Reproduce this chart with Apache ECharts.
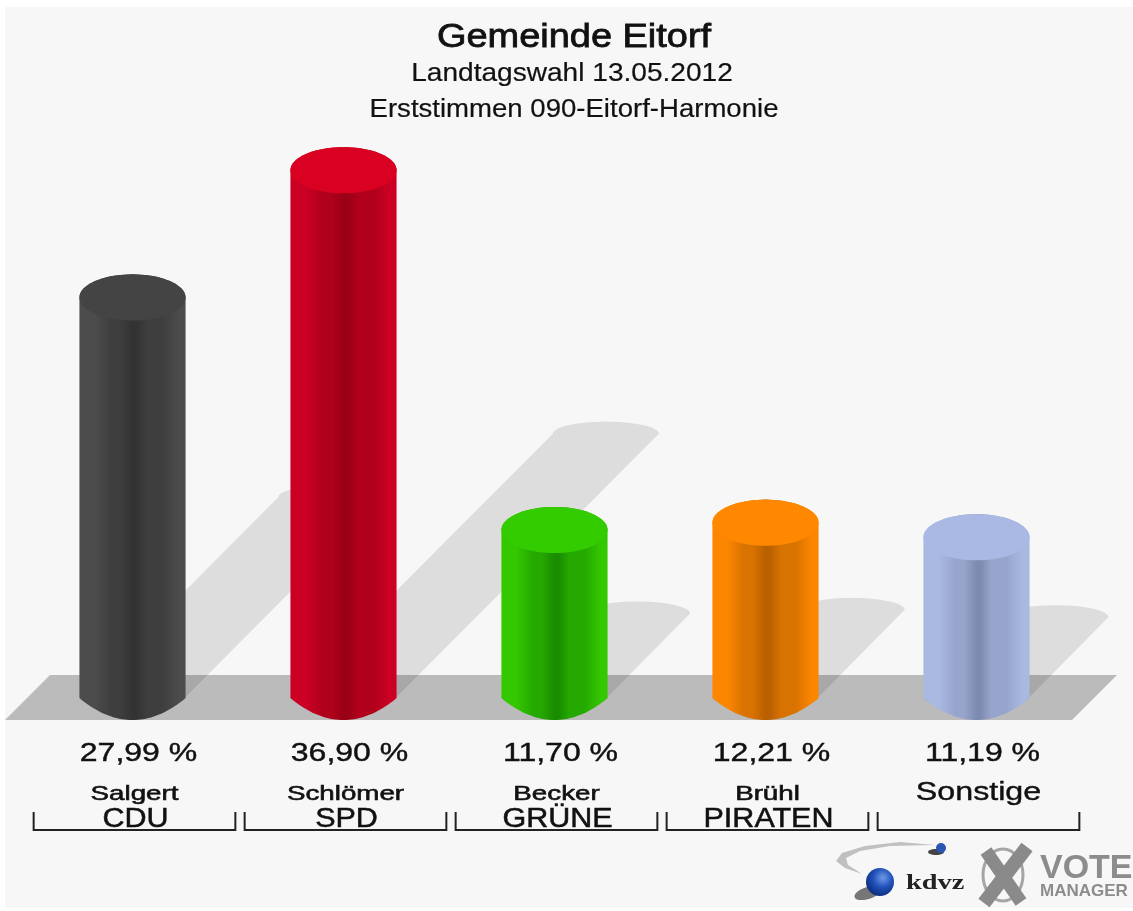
<!DOCTYPE html>
<html><head><meta charset="utf-8">
<style>html,body{margin:0;padding:0;background:#fff}#c{width:1133px;height:911px;filter:blur(0.5px)}</style>
<script src="https://cdn.jsdelivr.net/npm/echarts@6/dist/echarts.min.js"></script>
</head><body><div id="c"></div>
<script>
const titleLines = ['Gemeinde Eitorf', 'Landtagswahl 13.05.2012', 'Erststimmen 090-Eitorf-Harmonie'];
const candidates = ['Salgert', 'Schlömer', 'Becker', 'Brühl', 'Sonstige'];
const parties = ['CDU', 'SPD', 'GRÜNE', 'PIRATEN', ''];
const values = [27.99, 36.90, 11.70, 12.21, 11.19];
const capColors = ['#444444', '#d90022', '#33cc00', '#ff8800', '#a9b9e4'];
const edgeColors = ['#4c4c4c', '#cc0024', '#33c800', '#fd8600', '#a9b9e2'];
const darkColors = ['#333333', '#9a0016', '#198c00', '#b96000', '#7d8bb0'];
const midColors = ['#3e3e3e', '#b0001c', '#25a800', '#d87200', '#97a5cc'];

const FONT = '"Liberation Sans", Arial, sans-serif';
const chart = echarts.init(document.getElementById('c'), null, {renderer: 'canvas'});

function arc(cx, cy, rx, ry, from, to, n) {
  const pts = [];
  for (let i = 0; i <= n; i++) {
    const t = from + (to - from) * i / n;
    pts.push([cx + rx * Math.cos(t), cy - ry * Math.sin(t)]);
  }
  return pts;
}
function bottomCurve(cx, cy, rx, depth, lift, n) {
  const pts = [];
  for (let i = 0; i <= n; i++) {
    const u = 1 - 2 * i / n;
    pts.push([cx + rx * u, cy + lift + depth * (1 - u * u)]);
  }
  return pts;
}
function geom(api) {
  const base = api.coord([api.value(0), 0]);
  const top = api.coord([api.value(0), api.value(1)]);
  const band = api.size([1, 0])[0];
  const hw = band * 0.2515;
  return {cx: base[0], y0: base[1], yv: top[1], band, hw, ry: hw * 0.435};
}
const categoryData = values.map((v, i) => [i, v]);

const floorSeries = {
  type: 'custom', coordinateSystem: 'cartesian2d', silent: true, z: 1,
  data: [[0, 0]],
  renderItem(params, api) {
    const y0 = api.coord([0, 0])[1];
    const cs = params.coordSys;
    return {type: 'polygon', shape: {points: [
      [cs.x - 22, y0 + 23], [cs.x + 23, y0 - 22], [cs.x + cs.width + 35, y0 - 22], [cs.x + cs.width - 10, y0 + 23]
    ]}, style: {fill: '#bbbbbb'}};
  }
};
const shadowSeries = {
  type: 'custom', coordinateSystem: 'cartesian2d', silent: true, z: 2,
  data: categoryData,
  renderItem(params, api) {
    const g = geom(api);
    const h = (g.y0 - g.yv) / 2;
    const pts = arc(g.cx + h - 1, g.y0 - h, g.hw, g.ry * 0.52, Math.PI, 0, 30)
      .concat(arc(g.cx, g.y0, g.hw, g.ry * 0.52, 0, -Math.PI, 30));
    return {type: 'polygon', shape: {points: pts}, style: {fill: 'rgba(0,0,0,0.1)'}};
  }
};
const cylinderSeries = {
  type: 'custom', coordinateSystem: 'cartesian2d', z: 3,
  data: categoryData,
  renderItem(params, api) {
    const g = geom(api), i = params.dataIndex;
    const body = arc(g.cx, g.yv, g.hw, g.ry, Math.PI, 0, 40)
      .concat(bottomCurve(g.cx, g.y0, g.hw, g.ry - 1, 1, 40));
    const cap = arc(g.cx, g.yv, g.hw, g.ry, 0, 2 * Math.PI, 80);
    return {type: 'group', children: [
      {type: 'polygon', shape: {points: body}, style: {fill: {
        type: 'linear', x: 0, y: 0, x2: 1, y2: 0, colorStops: [
          {offset: 0, color: edgeColors[i]}, {offset: 0.14, color: edgeColors[i]},
          {offset: 0.3, color: midColors[i]}, {offset: 0.38, color: midColors[i]},
          {offset: 0.5, color: darkColors[i]}, {offset: 0.54, color: darkColors[i]},
          {offset: 0.64, color: midColors[i]}, {offset: 0.78, color: midColors[i]},
          {offset: 0.94, color: edgeColors[i]}, {offset: 1, color: edgeColors[i]}
        ]}}},
      {type: 'polygon', shape: {points: cap}, style: {fill: capColors[i]}}
    ]};
  }
};
const labelSeries = {
  type: 'custom', coordinateSystem: 'cartesian2d', silent: true, z: 4,
  data: categoryData,
  renderItem(params, api) {
    const g = geom(api), i = params.dataIndex;
    const txt = (text, off, dy, size, sx, bold) => ({
      type: 'text', x: g.cx + off, y: g.y0 + dy, scaleX: sx,
      style: {text, font: 'normal ' + size + 'px ' + FONT, fill: '#111', stroke: '#111', lineWidth: bold,
        textAlign: 'center', textVerticalAlign: 'middle'}
    });
    const l = g.cx - g.band * 0.478 + 2, r = g.cx + g.band * 0.478 + 2;
    const kids = [
      txt(values[i].toFixed(2).replace('.', ',') + ' %', 6, 57, 25, 1.28, 0.4),
      {type: 'polyline', shape: {points: [[l, g.y0 + 115], [l, g.y0 + 133], [r, g.y0 + 133], [r, g.y0 + 115]]},
        style: {stroke: '#222', lineWidth: 2, fill: null}}
    ];
    if (parties[i]) {
      kids.push(txt(candidates[i], 2, 97, 21, 1.32, 0.6));
      kids.push(txt(parties[i], 3, 123, 27, 1.13, 0.5));
    } else {
      kids.push(txt(candidates[i], 2, 96, 26, 1.24, 0.4));
    }
    return {type: 'group', children: kids};
  }
};
const titleText = (text, x, y, size, sx, bold) => ({
  type: 'text', x, y, scaleX: sx, z: 10,
  style: {text, font: 'normal ' + size + 'px ' + FONT, fill: '#111', stroke: '#111', lineWidth: bold,
    textAlign: 'center', textVerticalAlign: 'middle'}
});
const logo = [
  {type: 'polygon', z: 10, shape: {points: [[935, 845],[900,842],[865,846],[842,853],[836,861],[845,868],[862,874],[848,865],[846,858],[860,851],[890,846]]}, style: {fill: '#c0c0c0'}},
  {type: 'ellipse', z: 10, shape: {cx: 936, cy: 852, rx: 8, ry: 3}, style: {fill: '#444'}},
  {type: 'circle', z: 10, shape: {cx: 941, cy: 848, r: 5}, style: {fill: '#2a55b0'}},
  {type: 'ellipse', z: 10, shape: {cx: 868, cy: 893, rx: 14, ry: 6}, rotation: 0.3, originX: 868, originY: 893, style: {fill: '#555', opacity: .8}},
  {type: 'circle', z: 11, shape: {cx: 880, cy: 882, r: 14}, style: {fill: {type: 'radial', x: .6, y: .35, r: .7, colorStops: [{offset: 0, color: '#6f9ae8'},{offset: .5, color: '#2050b8'},{offset: 1, color: '#0c2a78'}]}}},
  {type: 'text', z: 11, x: 906, y: 884, scaleX: 1.35, style: {text: 'kdvz', font: 'bold 21px "Liberation Serif", serif', fill: '#222', textVerticalAlign: 'middle'}},
  {type: 'ellipse', z: 10, shape: {cx: 1003, cy: 875, rx: 20, ry: 26}, style: {fill: null, stroke: '#a5a5a5', lineWidth: 3}},
  {type: 'line', z: 11, shape: {x1: 986, y1: 851, x2: 1021, y2: 902}, style: {stroke: '#8a8a8a', lineWidth: 13}},
  {type: 'line', z: 11, shape: {x1: 1027, y1: 847, x2: 984, y2: 903}, style: {stroke: '#8a8a8a', lineWidth: 14}},
  {type: 'text', z: 11, x: 1040, y: 869, scaleX: 1.03, style: {text: 'VOTE', font: 'bold 33px ' + FONT, fill: '#8c8c8c', textVerticalAlign: 'middle'}},
  {type: 'text', z: 11, x: 1040, y: 891, scaleX: 1.03, style: {text: 'MANAGER', font: 'bold 16.5px ' + FONT, fill: '#8c8c8c', textVerticalAlign: 'middle'}}
];

chart.setOption({
  animation: false,
  backgroundColor: '#ffffff',
  grid: {left: 27, width: 1055, top: 126, height: 571},
  xAxis: {type: 'category', data: candidates, show: false},
  yAxis: {type: 'value', min: 0, max: 40, show: false},
  graphic: [
    {type: 'rect', z: -10, shape: {x: 5, y: 7, width: 1128, height: 901}, style: {fill: '#f7f7f7'}},
    titleText(titleLines[0], 574, 38, 33, 1.15, 0.8),
    titleText(titleLines[1], 572, 74, 26, 1.08, 0.2),
    titleText(titleLines[2], 574, 110, 26, 1.06, 0.2)
  ].concat(logo),
  series: [floorSeries, shadowSeries, cylinderSeries, labelSeries]
});
</script></body></html>
